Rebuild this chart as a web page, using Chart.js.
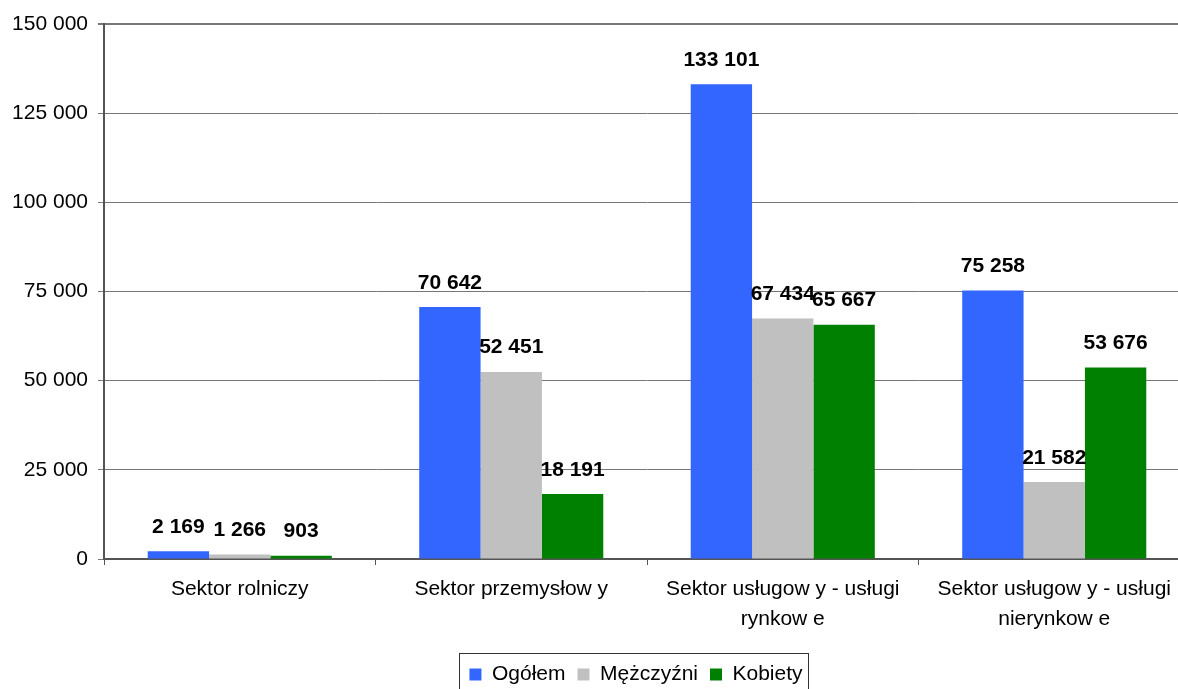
<!DOCTYPE html>
<html>
<head>
<meta charset="utf-8">
<script src="https://cdn.jsdelivr.net/npm/chart.js@4.4.1/dist/chart.umd.min.js"></script>
<style>
  html, body { margin: 0; padding: 0; overflow: hidden; background: #fff; }
  #wrap { position: relative; width: 1200px; height: 695px; }
  canvas { display: block; }
</style>
</head>
<body>
<div id="wrap"><canvas id="myChart" width="1200" height="695"></canvas></div>
<script>
// chart data
var categories = [
    ['Sektor rolniczy'],
    ['Sektor przemysłow y'],
    ['Sektor usługow y - usługi', 'rynkow e'],
    ['Sektor usługow y - usługi', 'nierynkow e']
];
var ogolem = [2169, 70642, 133101, 75258];
var mezczyzni = [1266, 52451, 67434, 21582];
var kobiety = [903, 18191, 65667, 53676];
var seriesNames = ['Ogółem', 'Mężczyźni', 'Kobiety'];
var yMin = 0, yMax = 150000, yStep = 25000;

var FONT = '"Liberation Sans", Arial, sans-serif';

function fmt(v) {
    return String(v).replace(/\B(?=(\d{3})+(?!\d))/g, ' ');
}

// value labels above the bars
var barLabels = {
    id: 'barLabels',
    afterDatasetsDraw: function(chart) {
        var ctx = chart.ctx;
        ctx.save();
        ctx.font = 'bold 21px ' + FONT;
        ctx.fillStyle = '#000';
        ctx.textAlign = 'center';
        ctx.textBaseline = 'alphabetic';
        chart.data.datasets.forEach(function(ds, i) {
            chart.getDatasetMeta(i).data.forEach(function(bar, j) {
                ctx.fillText(fmt(ds.data[j]), bar.x, bar.y - 18.5);
            });
        });
        ctx.restore();
    }
};

// legend is centred under the plot, not the whole canvas; plus its frame
var legendFrame = {
    id: 'legendFrame',
    afterLayout: function(chart) {
        if (chart.legend) chart.legend.left = 82;
    },
    afterDraw: function(chart) {
        var boxes = chart.legend && chart.legend.legendHitBoxes;
        if (!boxes || !boxes.length) return;
        var left = Infinity, right = -Infinity;
        boxes.forEach(function(b) {
            left = Math.min(left, b.left);
            right = Math.max(right, b.left + b.width);
        });
        var ctx = chart.ctx;
        ctx.save();
        ctx.strokeStyle = '#333';
        ctx.lineWidth = 1;
        ctx.strokeRect(Math.round(left - 10) + 0.5, 653.5, Math.round(right - left + 16), chart.height);
        ctx.restore();
    }
};

var ctx = document.getElementById('myChart');
var myChart = new Chart(ctx, {
    type: 'bar',
    data: {
        labels: categories,
        datasets: [
            { label: seriesNames[0], data: ogolem, backgroundColor: '#3366FF' },
            { label: seriesNames[1], data: mezczyzni, backgroundColor: '#C0C0C0' },
            { label: seriesNames[2], data: kobiety, backgroundColor: '#008000' }
        ]
    },
    options: {
        responsive: false,
        animation: false,
        devicePixelRatio: 1,
        layout: { padding: { top: 24, right: 10, bottom: 0, left: 0 } },
        datasets: {
            bar: { categoryPercentage: 0.678, barPercentage: 1.0 }
        },
        scales: {
            x: {
                grid: {
                    offset: true,
                    drawOnChartArea: false,
                    drawTicks: true,
                    tickLength: 6,
                    tickColor: '#555'
                },
                border: { display: true, color: '#555', width: 2 },
                ticks: {
                    color: '#000',
                    font: { family: FONT, size: 21, lineHeight: 1.43 },
                    padding: 9,
                    maxRotation: 0,
                    autoSkip: false
                },
                afterFit: function(scale) { scale.height = 93; }
            },
            y: {
                min: yMin,
                max: yMax,
                grid: {
                    color: '#777',
                    lineWidth: function(c) { return c.tick && c.tick.value === yMax ? 2 : 1; },
                    tickLength: 6,
                    tickColor: '#777'
                },
                border: { display: true, color: '#555', width: 2 },
                ticks: {
                    stepSize: yStep,
                    color: '#000',
                    padding: 10,
                    font: { family: FONT, size: 21 },
                    callback: function(v) { return fmt(v); }
                },
                afterFit: function(scale) { scale.width = 104; }
            }
        },
        plugins: {
            legend: {
                position: 'bottom',
                labels: {
                    boxWidth: 12,
                    boxHeight: 12,
                    padding: 12,
                    color: '#000',
                    font: { family: FONT, size: 21 }
                }
            },
            tooltip: { enabled: false }
        }
    },
    plugins: [barLabels, legendFrame]
});
</script>
</body>
</html>
